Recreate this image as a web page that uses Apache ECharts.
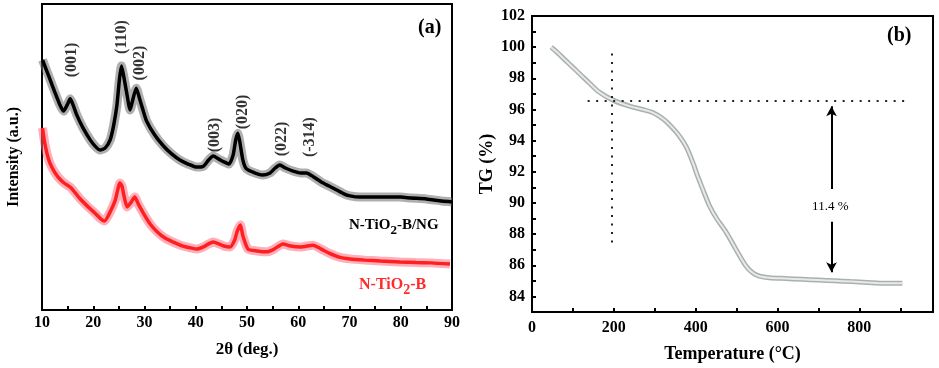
<!DOCTYPE html>
<html><head><meta charset="utf-8">
<script src="https://cdn.jsdelivr.net/npm/echarts@6/dist/echarts.min.js"></script>
<style>html,body{margin:0;padding:0;background:#fff}#c{width:939px;height:368px}</style>
</head><body><div id="c"></div>
<script>
// ---- Panel (a): XRD ----
var xrdTheta_NG = [10.1,11.6,12.5,13.5,14.2,15.0,15.5,16.0,16.8,18.0,19.4,20.5,21.3,22.3,23.3,24.0,24.6,25.1,25.5,25.9,26.5,27.2,27.8,28.4,29.0,29.7,30.4,32.0,33.7,35.3,36.9,38.5,40.2,41.5,42.5,43.4,44.5,45.5,46.5,47.3,47.8,48.2,48.6,49.2,49.9,51.5,53.0,54.5,55.5,56.4,57.5,59.0,60.5,61.6,63.0,64.5,66.0,67.5,69.0,70.1,72,75,78,80,82,85,88,90];
var xrdInt_NG   = [81.7,75.2,71.2,67.0,65.0,67.3,69.0,67.3,63.7,59.5,55.6,53.3,52.3,52.9,55.6,60.5,66.7,75.2,79.7,76.8,71.2,65.4,69.3,72.5,69.3,65.4,61.8,57.2,53.6,51.0,49.0,47.7,46.7,47.0,49.0,50.3,49.3,48.4,47.7,50.7,55.6,57.8,54.9,49.0,46.1,44.8,44.1,44.8,46.4,47.4,46.4,45.4,44.8,44.8,43.5,41.8,40.5,39.2,37.9,37.3,36.9,36.9,36.9,36.9,36.6,36.3,35.6,35.3];
var xrdTheta_B = [10.1,10.5,11.2,12.0,13.1,14.3,15.7,17.3,19.0,20.5,21.5,22.2,23.2,24.3,25.2,25.6,26.0,26.6,27.3,28.1,28.8,30.0,31.1,32.5,34.0,35.6,37.5,39.0,40.2,41.5,42.5,43.4,44.5,45.5,46.7,47.6,48.1,48.7,49.2,50.2,52.0,53.8,55.3,57.0,58.5,60.5,62.9,64.5,66.0,68.0,70.1,73.0,76.0,79.8,83.0,86.0,89.6];
var xrdInt_B   = [59.5,54.9,49.7,46.4,43.5,41.5,39.9,36.6,33.7,31.4,29.7,29.1,31.7,35.9,41.5,40.5,37.3,33.7,35.0,36.9,34.6,31.0,28.1,25.5,23.5,22.2,20.9,20.3,19.9,20.6,21.6,22.2,21.6,20.9,20.6,22.9,25.8,27.8,24.2,19.9,19.3,19.0,19.9,21.6,20.9,20.6,21.2,19.9,18.6,17.3,16.7,16.3,16.0,15.7,15.5,15.4,15.0];
var peakNames = ['(001)','(110)','(002)','(003)','(020)','(022)','(-314)'];
var peakTheta = [15.85,25.6,29.1,43.8,49.2,56.8,62.3];
var peakLabelInt = [81.7,89.2,80.7,57.2,64.7,55.9,56.5];
var xrdTicks = [10,20,30,40,50,60,70,80,90];

// ---- Panel (b): TGA ----
var tgTemp = [47,60,80,100,120,140,165,198,240,270,295,320,344,360,377,393,405,417,434,450,475,499,523,540,556,580,620,660,700,740,780,820,850,880,905];
var tgVal  = [100.0,99.7,99.2,98.7,98.2,97.7,97.1,96.6,96.2,96.0,95.8,95.4,94.8,94.3,93.6,92.6,91.7,90.9,89.8,89.05,88.1,87.0,85.95,85.5,85.3,85.2,85.15,85.1,85.05,85.0,84.95,84.9,84.85,84.85,84.85];
var tgTicks = [84,86,88,90,92,94,96,98,100,102];
var tempTicks = [0,200,400,600,800];
var lossText = '11.4 %';
var onsetTemp = 196, onsetTG = 96.55, arrowTemp = 732;

function pairs(a,b){return a.map(function(v,i){return [v,b[i]];});}
var F = 'Liberation Serif';
var chart = echarts.init(document.getElementById('c'), null, {renderer:'canvas'});
var peakData = peakNames.map(function(n,i){return {value:[peakTheta[i],peakLabelInt[i]], name:n};});

chart.setOption({
  animation:false,
  grid:[
    {left:42, top:4, width:410, height:306, show:true, borderColor:'#000', borderWidth:2},
    {left:532, top:16, width:401, height:296, show:true, borderColor:'#000', borderWidth:2}
  ],
  xAxis:[
    {gridIndex:0, type:'value', min:10, max:90, interval:5,
     axisLine:{lineStyle:{color:'#000',width:2}},
     axisTick:{inside:true,length:4,lineStyle:{color:'#000',width:2}},
     axisLabel:{margin:5, color:'#000', fontFamily:F, fontWeight:'bold', fontSize:16,
       formatter:function(v){return xrdTicks.indexOf(v)>=0?String(v):'';}},
     splitLine:{show:false},
     name:'2θ (deg.)', nameLocation:'middle', nameGap:31,
     nameTextStyle:{color:'#000', fontFamily:F, fontWeight:'bold', fontSize:17}},
    {gridIndex:1, type:'value', min:0, max:980, interval:100,
     axisLine:{lineStyle:{color:'#000',width:2}},
     axisTick:{inside:true,length:4,lineStyle:{color:'#000',width:2}},
     axisLabel:{margin:8, color:'#000', fontFamily:F, fontWeight:'bold', fontSize:16, showMaxLabel:false,
       formatter:function(v){return tempTicks.indexOf(v)>=0?String(v):'';}},
     splitLine:{show:false},
     name:'Temperature (°C)', nameLocation:'middle', nameGap:33,
     nameTextStyle:{color:'#000', fontFamily:F, fontWeight:'bold', fontSize:18}}
  ],
  yAxis:[
    {gridIndex:0, type:'value', min:0, max:100,
     axisLine:{lineStyle:{color:'#000',width:2}}, axisTick:{show:false}, axisLabel:{show:false}, splitLine:{show:false},
     name:'Intensity (a.u.)', nameLocation:'middle', nameGap:20,
     nameTextStyle:{color:'#000', fontFamily:F, fontWeight:'bold', fontSize:16}},
    {gridIndex:1, type:'value', min:83, max:102, interval:1,
     axisLine:{lineStyle:{color:'#000',width:2}},
     axisTick:{inside:true,length:4,lineStyle:{color:'#000',width:2}},
     axisLabel:{margin:7, color:'#000', fontFamily:F, fontWeight:'bold', fontSize:16,
       formatter:function(v){return tgTicks.indexOf(v)>=0?String(v):'';}},
     splitLine:{show:false},
     name:'TG (%)', nameLocation:'middle', nameGap:36,
     nameTextStyle:{color:'#000', fontFamily:F, fontWeight:'bold', fontSize:18}}
  ],
  series:[
    {type:'line', xAxisIndex:0, yAxisIndex:0, data:pairs(xrdTheta_NG,xrdInt_NG), showSymbol:false, smooth:0.2,
     lineStyle:{color:'rgba(110,110,110,0.55)', width:9}, z:2},
    {type:'line', xAxisIndex:0, yAxisIndex:0, data:pairs(xrdTheta_NG,xrdInt_NG), showSymbol:false, smooth:0.2,
     lineStyle:{color:'#000', width:3.5}, z:3},
    {type:'line', xAxisIndex:0, yAxisIndex:0, data:pairs(xrdTheta_B,xrdInt_B), showSymbol:false, smooth:0.2,
     lineStyle:{color:'rgba(255,110,130,0.55)', width:9}, z:2},
    {type:'line', xAxisIndex:0, yAxisIndex:0, data:pairs(xrdTheta_B,xrdInt_B), showSymbol:false, smooth:0.2,
     lineStyle:{color:'#ff1f1f', width:3.5}, z:3},
    {type:'scatter', xAxisIndex:0, yAxisIndex:0, data:peakData, symbolSize:0, silent:true,
     label:{show:true, position:'inside', rotate:90, formatter:'{b}', color:'#000', fontFamily:F, fontWeight:'bold', fontSize:16}},
    {type:'line', xAxisIndex:1, yAxisIndex:1, data:pairs(tgTemp,tgVal), showSymbol:false, smooth:0.3,
     lineStyle:{color:'#aab0b0', width:5}, z:2},
    {type:'line', xAxisIndex:1, yAxisIndex:1, data:pairs(tgTemp,tgVal), showSymbol:false, smooth:0.3,
     lineStyle:{color:'#e8eaea', width:2}, z:3,
     markLine:{silent:true, symbol:'none', label:{show:false},
       lineStyle:{color:'#222', width:2, type:[2,6.5]},
       data:[
         [{coord:[onsetTemp,99.6]},{coord:[onsetTemp,87.1]}],
         [{coord:[136,onsetTG]},{coord:[922,onsetTG]}]
       ]}},
    {type:'line', xAxisIndex:1, yAxisIndex:1, data:[], showSymbol:false,
     markLine:{silent:true, symbol:['none','arrow'], symbolSize:[8,10], label:{show:false},
       lineStyle:{color:'#000', width:2, type:'solid'},
       data:[
         [{coord:[arrowTemp,90.9]},{coord:[arrowTemp,96.2]}],
         [{coord:[arrowTemp,88.8]},{coord:[arrowTemp,85.55]}]
       ]},
     markPoint:{silent:true, symbol:'rect', symbolSize:0,
       label:{show:true, position:'inside', color:'#000', fontFamily:F, fontSize:13, formatter:lossText},
       data:[{coord:[arrowTemp-3,89.75]}]}}
  ],
  graphic:[
    {type:'text', left:418, top:18, style:{text:'(a)', font:'bold 20px "Liberation Serif"', fill:'#000'}},
    {type:'text', left:887, top:26, style:{text:'(b)', font:'bold 20px "Liberation Serif"', fill:'#000'}},
    {type:'text', left:349, top:218, style:{text:'{a|N-TiO}{s|2}{a|-B/NG}', rich:{
       a:{font:'bold 15px "Liberation Serif"', fill:'#000', verticalAlign:'bottom'},
       s:{font:'bold 13px "Liberation Serif"', fill:'#000', verticalAlign:'bottom', padding:[0,0,-4,0]}}}},
    {type:'text', left:359, top:277, style:{text:'{a|N-TiO}{s|2}{a|-B}', rich:{
       a:{font:'bold 16px "Liberation Serif"', fill:'#ff2a2a', verticalAlign:'bottom'},
       s:{font:'bold 14px "Liberation Serif"', fill:'#ff2a2a', verticalAlign:'bottom', padding:[0,0,-4,0]}}}}
  ]
});
</script></body></html>
